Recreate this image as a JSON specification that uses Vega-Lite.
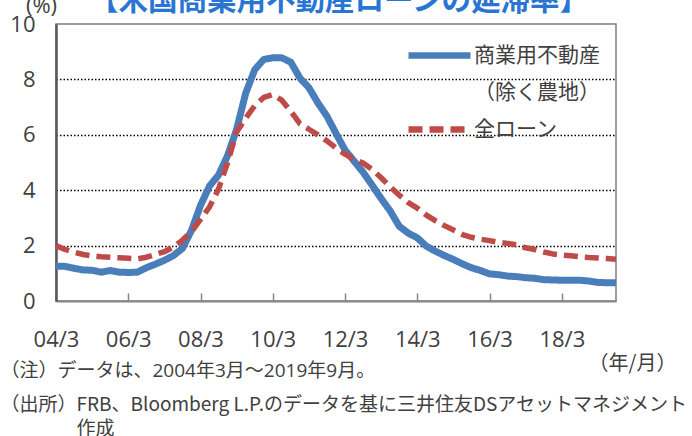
{
  "$schema": "https://vega.github.io/schema/vega-lite/v6.json",
  "width": 560,
  "height": 277,
  "autosize": {"type": "none"},
  "padding": {"left": 56, "top": 24, "right": 76, "bottom": 135},
  "background": "white",
  "title": {
    "text": "【米国商業用不動産ローンの延滞率】",
    "color": "#2a75d3",
    "fontSize": 29.5,
    "fontWeight": "bold",
    "font": "Noto Sans CJK JP",
    "anchor": "middle",
    "frame": "group",
    "baseline": "alphabetic",
    "offset": 0,
    "dy": 45,
    "dx": 3
  },
  "data": {
    "values": [
      {"q": "04/3", "cre": 1.26, "all": 2.00},
      {"q": "04/6", "cre": 1.25, "all": 1.86},
      {"q": "04/9", "cre": 1.18, "all": 1.76},
      {"q": "04/12", "cre": 1.12, "all": 1.68},
      {"q": "05/3", "cre": 1.11, "all": 1.63},
      {"q": "05/6", "cre": 1.04, "all": 1.60},
      {"q": "05/9", "cre": 1.10, "all": 1.58},
      {"q": "05/12", "cre": 1.04, "all": 1.56},
      {"q": "06/3", "cre": 1.03, "all": 1.54},
      {"q": "06/6", "cre": 1.04, "all": 1.52},
      {"q": "06/9", "cre": 1.20, "all": 1.58},
      {"q": "06/12", "cre": 1.33, "all": 1.68},
      {"q": "07/3", "cre": 1.47, "all": 1.78},
      {"q": "07/6", "cre": 1.64, "all": 1.95},
      {"q": "07/9", "cre": 1.90, "all": 2.20},
      {"q": "07/12", "cre": 2.55, "all": 2.50},
      {"q": "08/3", "cre": 3.45, "all": 2.95},
      {"q": "08/6", "cre": 4.15, "all": 3.40},
      {"q": "08/9", "cre": 4.55, "all": 4.05},
      {"q": "08/12", "cre": 5.25, "all": 5.00},
      {"q": "09/3", "cre": 6.20, "all": 6.10},
      {"q": "09/6", "cre": 7.50, "all": 6.60},
      {"q": "09/9", "cre": 8.35, "all": 7.05},
      {"q": "09/12", "cre": 8.72, "all": 7.35},
      {"q": "10/3", "cre": 8.78, "all": 7.45},
      {"q": "10/6", "cre": 8.78, "all": 7.25},
      {"q": "10/9", "cre": 8.62, "all": 6.85},
      {"q": "10/12", "cre": 8.05, "all": 6.40},
      {"q": "11/3", "cre": 7.70, "all": 6.20},
      {"q": "11/6", "cre": 7.15, "all": 6.00},
      {"q": "11/9", "cre": 6.67, "all": 5.78},
      {"q": "11/12", "cre": 6.05, "all": 5.52},
      {"q": "12/3", "cre": 5.45, "all": 5.30},
      {"q": "12/6", "cre": 5.05, "all": 5.12},
      {"q": "12/9", "cre": 4.65, "all": 4.98},
      {"q": "12/12", "cre": 4.18, "all": 4.75},
      {"q": "13/3", "cre": 3.70, "all": 4.45},
      {"q": "13/6", "cre": 3.25, "all": 4.12},
      {"q": "13/9", "cre": 2.70, "all": 3.82},
      {"q": "13/12", "cre": 2.45, "all": 3.55},
      {"q": "14/3", "cre": 2.28, "all": 3.35},
      {"q": "14/6", "cre": 1.98, "all": 3.10},
      {"q": "14/9", "cre": 1.80, "all": 2.90},
      {"q": "14/12", "cre": 1.64, "all": 2.72},
      {"q": "15/3", "cre": 1.50, "all": 2.56},
      {"q": "15/6", "cre": 1.34, "all": 2.40},
      {"q": "15/9", "cre": 1.20, "all": 2.30},
      {"q": "15/12", "cre": 1.10, "all": 2.23},
      {"q": "16/3", "cre": 0.98, "all": 2.18},
      {"q": "16/6", "cre": 0.95, "all": 2.12},
      {"q": "16/9", "cre": 0.90, "all": 2.08},
      {"q": "16/12", "cre": 0.88, "all": 2.03},
      {"q": "17/3", "cre": 0.84, "all": 1.92},
      {"q": "17/6", "cre": 0.82, "all": 1.86},
      {"q": "17/9", "cre": 0.77, "all": 1.77},
      {"q": "17/12", "cre": 0.76, "all": 1.70},
      {"q": "18/3", "cre": 0.75, "all": 1.66},
      {"q": "18/6", "cre": 0.75, "all": 1.63},
      {"q": "18/9", "cre": 0.75, "all": 1.60},
      {"q": "18/12", "cre": 0.72, "all": 1.57},
      {"q": "19/3", "cre": 0.67, "all": 1.55},
      {"q": "19/6", "cre": 0.66, "all": 1.53},
      {"q": "19/9", "cre": 0.66, "all": 1.51}
    ]
  },
  "layer": [
    {
      "mark": {"type": "line", "strokeWidth": 7, "strokeJoin": "round"},
      "encoding": {
        "x": {
          "field": "q", "type": "ordinal", "sort": null,
          "scale": {"type": "point", "padding": 0},
          "axis": {
            "orient": "bottom",
            "values": ["04/3", "06/3", "08/3", "10/3", "12/3", "14/3", "16/3", "18/3"],
            "labelAngle": 0,
            "labelFontSize": 22,
            "labelColor": "#404040",
            "labelFont": "Open Sans",
            "ticks": true,
            "tickSize": -8,
            "tickColor": "#868686",
            "tickWidth": 1.5,
            "domainColor": "#868686",
            "domainWidth": 2,
            "labelPadding": 36,
            "grid": false,
            "title": "（注）データは、2004年3月～2019年9月。",
            "titleX": -56,
            "titleY": 69,
            "titleAlign": "left",
            "titleAnchor": "start",
            "titleBaseline": "middle",
            "titleFontSize": 19,
            "titleFontWeight": "normal",
            "titleColor": "#404040",
            "titleFont": "'Open Sans', 'Noto Sans CJK JP'"
          }
        },
        "y": {
          "field": "cre", "type": "quantitative",
          "scale": {"domain": [0, 10], "nice": false, "zero": true},
          "axis": {
            "orient": "left",
            "values": [0, 2, 4, 6, 8, 10],
            "labelFontSize": 22,
            "labelColor": "#404040",
            "labelFont": "Open Sans",
            "labelPadding": 21,
            "ticks": false,
            "domainColor": "#595959",
            "domainWidth": 2.5,
            "grid": true,
            "gridColor": "#000000",
            "gridDash": [1.5, 2],
            "gridWidth": 1.3,
            "gridOpacity": {"condition": {"test": "datum.value == 0 || datum.value == 10", "value": 0}, "value": 1},
            "title": "(%)",
            "titleAngle": 0,
            "titleX": -15,
            "titleY": -12,
            "titleAlign": "center",
            "titleAnchor": "start",
            "titleBaseline": "alphabetic",
            "titleFontSize": 22,
            "titleFontWeight": "normal",
            "titleColor": "#404040",
            "titleFont": "Open Sans"
          }
        },
        "color": {
          "datum": "商業用不動産", "type": "nominal",
          "scale": {"domain": ["商業用不動産", "（除く農地）", "全ローン"], "range": ["#4a7ebb", "transparent", "#be4b48"]},
          "legend": {"title": null}
        },
        "strokeDash": {
          "datum": "商業用不動産", "type": "nominal",
          "scale": {"domain": ["商業用不動産", "（除く農地）", "全ローン"], "range": [[1, 0], [1, 0], [14, 7]]},
          "legend": {"title": null}
        }
      }
    },
    {
      "mark": {"type": "line", "strokeWidth": 5.5, "strokeJoin": "round", "strokeCap": "butt"},
      "encoding": {
        "x": {
          "field": "q", "type": "ordinal", "sort": null,
          "scale": {"type": "point", "padding": 0},
          "axis": {
            "orient": "bottom",
            "labels": false,
            "ticks": false,
            "domain": false,
            "grid": false,
            "title": ["（出所）FRB、Bloomberg L.P.のデータを基に三井住友DSアセットマネジメント", "\u200b　　　　作成"],
            "titleX": -56,
            "titleY": 109,
            "titleAlign": "left",
            "titleAnchor": "start",
            "titleBaseline": "alphabetic",
            "titleLineHeight": 24,
            "titleFontSize": 19,
            "titleFontWeight": "normal",
            "titleColor": "#404040",
            "titleFont": "'Noto Sans CJK JP'"
          }
        },
        "y": {
          "field": "all", "type": "quantitative",
          "scale": {"domain": [0, 10], "nice": false, "zero": true},
          "axis": {
            "orient": "right",
            "labels": false,
            "ticks": false,
            "domain": false,
            "grid": false,
            "title": "（年/月）",
            "titleAngle": 0,
            "titleX": 16,
            "titleY": 339,
            "titleAlign": "center",
            "titleAnchor": "start",
            "titleBaseline": "middle",
            "titleFontSize": 20,
            "titleFontWeight": "normal",
            "titleColor": "#404040",
            "titleFont": "Noto Sans CJK JP"
          }
        },
        "color": {
          "datum": "全ローン", "type": "nominal",
          "scale": {"domain": ["商業用不動産", "（除く農地）", "全ローン"], "range": ["#4a7ebb", "transparent", "#be4b48"]},
          "legend": {"title": null}
        },
        "strokeDash": {
          "datum": "全ローン", "type": "nominal",
          "scale": {"domain": ["商業用不動産", "（除く農地）", "全ローン"], "range": [[1, 0], [1, 0], [14, 7]]},
          "legend": {"title": null}
        }
      }
    }
  ],
  "resolve": {"axis": {"x": "independent", "y": "independent"}},
  "config": {
    "font": "Noto Sans CJK JP",
    "view": {"stroke": "#7f7f7f", "strokeWidth": 1.5},
    "legend": {
      "orient": "none",
      "legendX": 349,
      "legendY": 13,
      "padding": 0,
      "symbolType": "stroke",
      "symbolSize": 3844,
      "symbolStrokeWidth": 6.5,
      "labelFontSize": 21,
      "labelColor": "#404040",
      "labelFont": "Noto Sans CJK JP",
      "labelOffset": 0,
      "labelLimit": 300,
      "clipHeight": 37,
      "rowPadding": 0
    }
  }
}
